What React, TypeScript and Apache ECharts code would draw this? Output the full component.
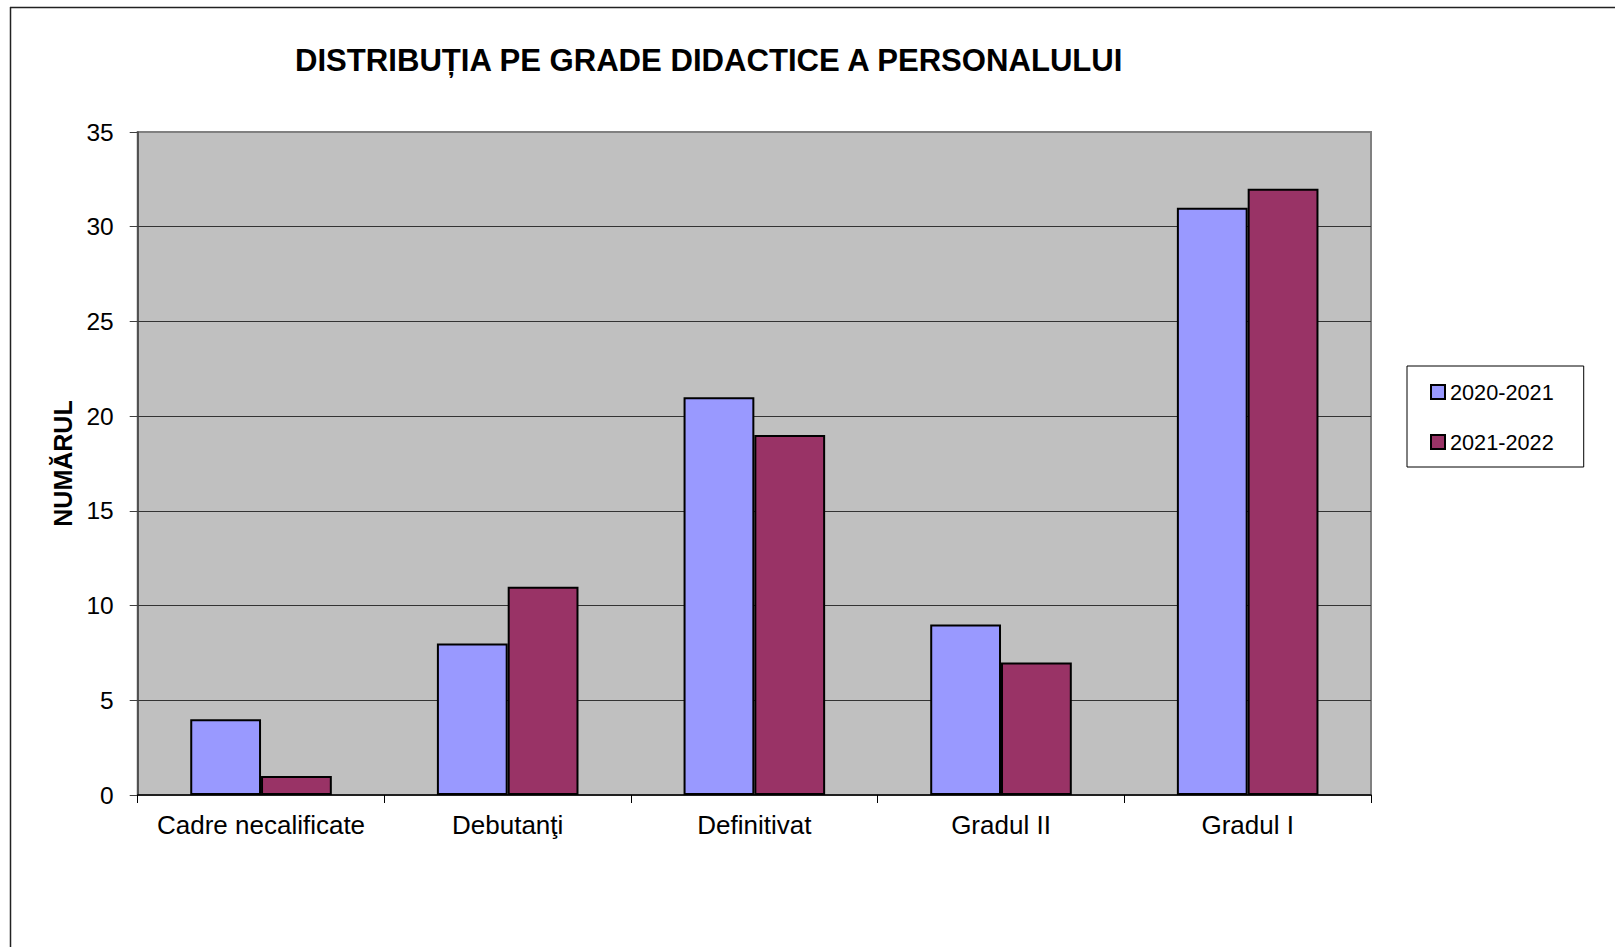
import React, { useEffect, useRef } from "react";
import * as echarts from "echarts";

const categories = ["Cadre necalificate", "Debutanţi", "Definitivat", "Gradul II", "Gradul I"];
const series2020 = [4, 8, 21, 9, 31];
const series2021 = [1, 11, 19, 7, 32];
const seriesNames = ["2020-2021", "2021-2022"];
const yTicks = { min: 0, max: 35, interval: 5 };
const titleText = "DISTRIBUȚIA PE GRADE DIDACTICE A PERSONALULUI";
const yAxisTitle = "NUMĂRUL";

const FONT = "'Liberation Sans', Arial, sans-serif";

export default function App() {
  const ref = useRef<HTMLDivElement>(null);
  useEffect(() => {
    if (!ref.current) return;
    const chart = echarts.init(ref.current, undefined, { renderer: "svg" });
    chart.setOption({
      animation: false,
      backgroundColor: "#ffffff",
      textStyle: { fontFamily: FONT, color: "#000" },
      title: {
        text: titleText,
        left: 295,
        top: 45,
        padding: 0,
        textStyle: { fontFamily: FONT, fontSize: 31.1, fontWeight: "bold", color: "#000" },
      },
      legend: {
        orient: "vertical",
        left: 1407,
        top: 366,
        backgroundColor: "#fff",
        borderColor: "#000",
        borderWidth: 1,
        padding: [14, 30, 13, 23],
        itemWidth: 14,
        itemHeight: 14,
        itemGap: 26,
        icon: "rect",
        itemStyle: { borderColor: "#000", borderWidth: 2 },
        textStyle: { fontFamily: FONT, fontSize: 21.7, lineHeight: 24, color: "#000" },
        data: seriesNames,
      },
      grid: {
        left: 137.7,
        right: 244,
        top: 132,
        bottom: 152,
        show: true,
        backgroundColor: "#C0C0C0",
        borderColor: "#808080",
        borderWidth: 2,
      },
      xAxis: {
        type: "category",
        data: categories,
        axisLine: { lineStyle: { color: "#000", width: 1.5 } },
        axisTick: { show: true, length: 8, lineStyle: { color: "#000" } },
        axisLabel: { fontFamily: FONT, fontSize: 26, color: "#000", margin: 17, interval: 0 },
        splitLine: { show: false },
      },
      yAxis: {
        type: "value",
        min: yTicks.min,
        max: yTicks.max,
        interval: yTicks.interval,
        name: yAxisTitle,
        nameLocation: "middle",
        nameRotate: 90,
        nameGap: 60,
        nameTextStyle: { fontFamily: FONT, fontSize: 25, fontWeight: "bold", color: "#000" },
        axisLine: { show: true, lineStyle: { color: "#404040", width: 1.5 } },
        axisTick: { show: true, length: 8, lineStyle: { color: "#404040" } },
        axisLabel: { fontFamily: FONT, fontSize: 24.5, color: "#000", margin: 24 },
        splitLine: { show: true, showMinLine: false, showMaxLine: false, lineStyle: { color: "#333", width: 1 } },
      },
      series: [
        {
          name: seriesNames[0],
          type: "bar",
          data: series2020,
          barGap: "0%",
          barCategoryGap: "42.6%",
          itemStyle: { color: "#9999FF", borderColor: "#000", borderWidth: 2 },
        },
        {
          name: seriesNames[1],
          type: "bar",
          data: series2021,
          barGap: "0%",
          barCategoryGap: "42.6%",
          itemStyle: { color: "#993366", borderColor: "#000", borderWidth: 2 },
        },
      ],
      graphic: [
        { type: "line", shape: { x1: 10, y1: 7.5, x2: 1615, y2: 7.5 }, style: { stroke: "#222", lineWidth: 1.5 } },
        { type: "line", shape: { x1: 10.5, y1: 7, x2: 10.5, y2: 947 }, style: { stroke: "#222", lineWidth: 1.5 } },
      ],
    });
    return () => chart.dispose();
  }, []);
  return <div ref={ref} style={{ position: "fixed", left: 0, top: 0, width: 1615, height: 947 }} />;
}
